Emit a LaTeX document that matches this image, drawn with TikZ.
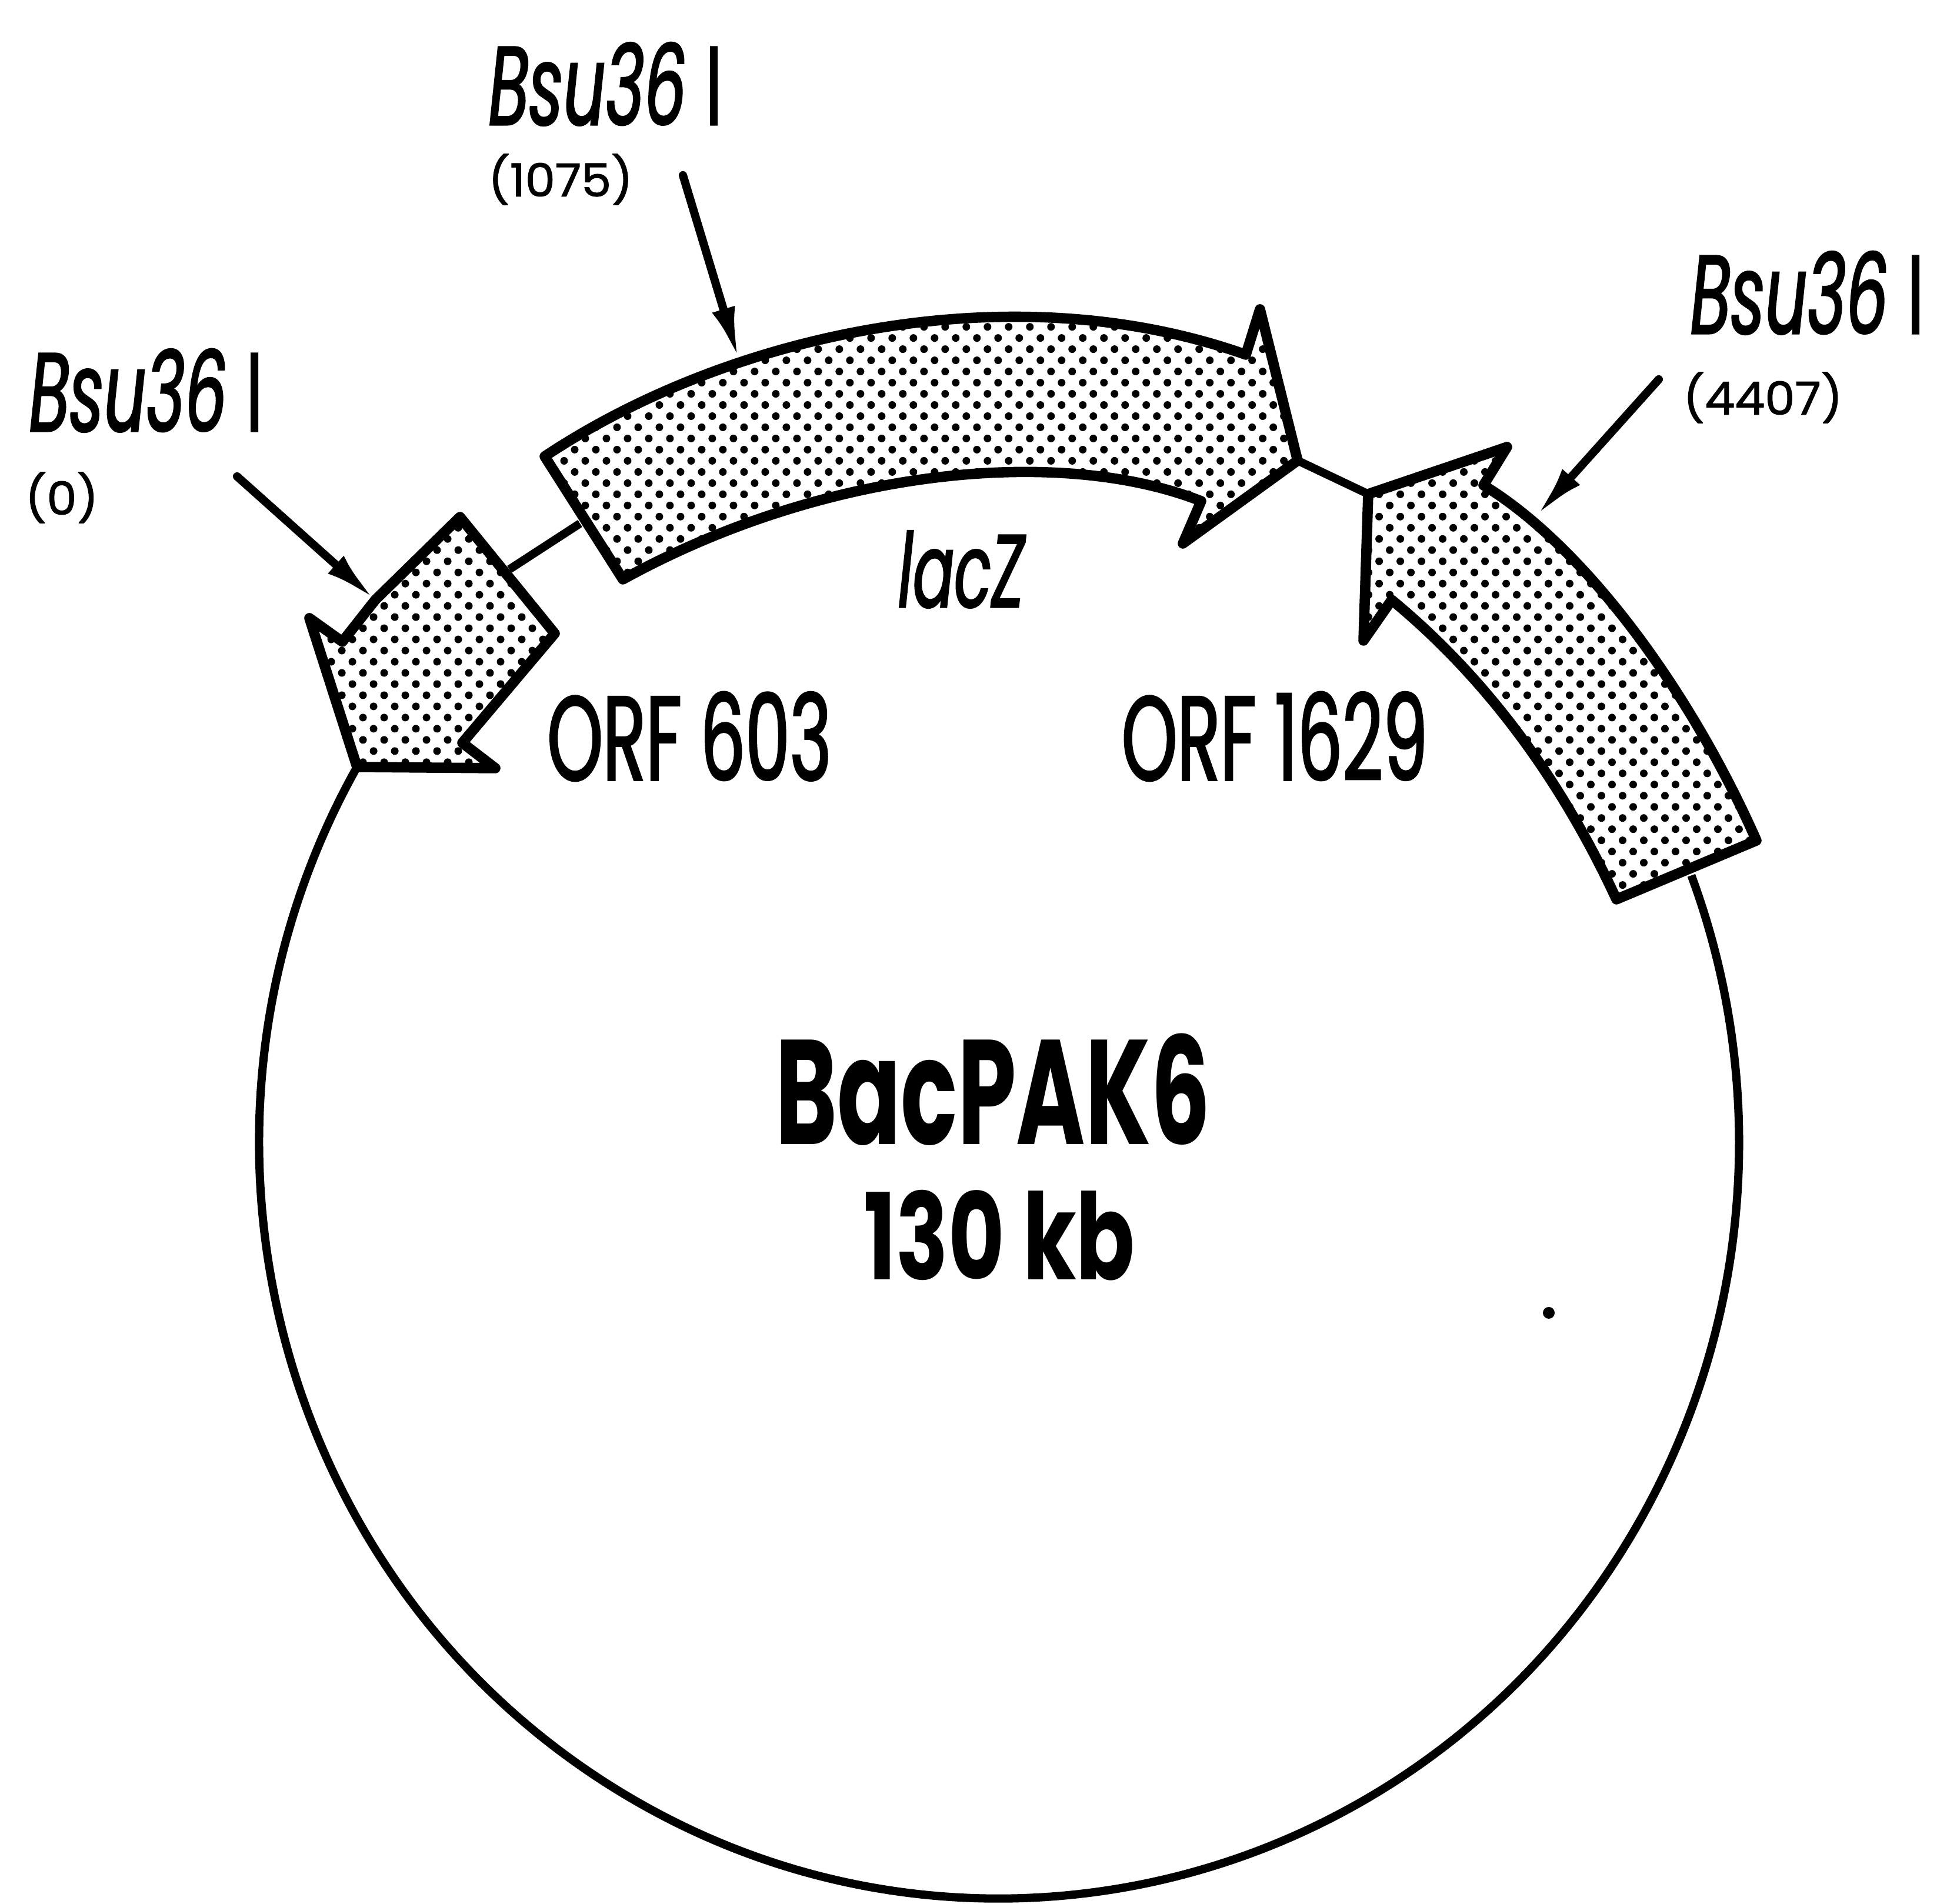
\documentclass[tikz,border=0pt]{standalone}
\usepackage{fontspec}
\newfontfamily\maplabel[FakeStretch=0.59,FakeBold=1.5]{Poppins}
\newfontfamily\mapname[FakeStretch=0.63]{Poppins}
\newfontfamily\mapsize[FakeStretch=0.72]{Poppins}
\newfontfamily\mappos[FakeStretch=1.05,FakeBold=1.5]{Poppins}
\usetikzlibrary{arrows.meta,patterns}
\pgfdeclarepatternformonly{genedots}{\pgfqpoint{-3pt}{-3pt}}{\pgfqpoint{13pt}{14pt}}{\pgfqpoint{10.24pt}{10.8pt}}{
  \pgfpathcircle{\pgfqpoint{1.5pt}{1.5pt}}{1.85pt}
  \pgfpathcircle{\pgfqpoint{6.62pt}{6.9pt}}{1.85pt}
  \pgfusepath{fill}
}
\tikzset{
  >=Latex,
  backbone/.style={line width=4pt},
  genebox/.style={line width=5pt, line join=round, preaction={fill=white}, pattern=genedots},
  site/.style={line width=4pt, line cap=round, -{Latex[length=9mm,width=4mm]}},
  sitename/.style={font=\maplabel\fontsize{54}{60}\selectfont\itshape, inner sep=0pt},
  sitepos/.style={font=\mappos\fontsize{22}{24}\selectfont, inner sep=0pt},
  genename/.style={font=\maplabel\fontsize{58}{64}\selectfont, inner sep=0pt}
}
\begin{document}
\begin{tikzpicture}
\useasboundingbox (0,0) rectangle (32.93,32.37);
% 1 : Junctions
\coordinate (tipa) at (6.07,19.33);
\coordinate (corea) at (8.66,22.69);
\coordinate (lacb) at (9.86,23.47);
\coordinate (lactip) at (22.06,24.54);
\coordinate (orfc) at (23.26,23.97);
\coordinate (orfd) at (28.73,17.46);

% 2 : Backbone
\draw[backbone] (tipa) arc[start angle=150.2, end angle=380.7, x radius=12.58, y radius=12.85];
\draw[backbone] (corea) -- (lacb);
\draw[backbone] (lactip) -- (orfc);

% 3 : ORF 603
\draw[genebox] (7.82,23.58) -- (6.38,22.17) -- (5.82,21.46) -- (5.26,21.86) -- (tipa)
  -- (8.42,19.31) -- (7.86,19.74) -- (9.43,21.60) -- cycle;

% 4 : lacZ
\draw[genebox] (9.26,24.61) .. controls (12.4,26.7) and (17.2,27.75) .. (21.18,26.34)
  -- (21.42,27.11) -- (lactip) -- (20.11,23.13) -- (20.42,23.85)
  .. controls (18.0,24.8) and (14.0,24.4) .. (10.59,22.52) -- cycle;

% 5 : ORF 1629
\draw[genebox] (orfc) -- (25.62,24.77) -- (25.22,24.12)
  .. controls (26.9,23.1) and (28.7,20.7) .. (29.86,18.08)
  -- (27.48,17.08)
  .. controls (26.5,19.2) and (25.2,20.9) .. (23.66,22.17)
  -- (23.18,21.48) -- cycle;

% 6 : Sites
\coordinate (sitea) at (4.03,24.27);
\coordinate (hita) at (6.38,22.17);
\coordinate (siteb) at (11.61,29.39);
\coordinate (hitb) at (12.56,26.25);
\coordinate (sitec) at (28.20,25.92);
\coordinate (hitc) at (26.11,23.59);
\draw[site] (sitea) -- (hita);
\draw[site] (siteb) -- (hitb);
\draw[site] (sitec) -- (hitc);

% 7 : Labels
\node[sitename] (bsua) at (2.48,25.73) {Bsu36 {\upshape I}};
\node[sitepos] (posa) at (1.05,23.91) {(0)};
\node[sitename] (bsub) at (10.29,30.94) {Bsu36 {\upshape I}};
\node[sitepos] (posb) at (9.53,29.32) {(1075)};
\node[sitename] (bsuc) at (30.72,27.39) {Bsu36 {\upshape I}};
\node[sitepos] (posc) at (29.97,25.61) {(4407)};
\node[genename, font=\maplabel\fontsize{50}{56}\selectfont\itshape] (lacz) at (16.34,22.69) {lacZ};
\node[genename] (orfsix) at (11.72,19.85) {ORF 603};
\node[genename] (orfsixteen) at (21.67,19.85) {ORF 1629};
\node[genename, font=\mapname\fontsize{72}{80}\selectfont\bfseries] (name) at (16.88,13.85) {BacPAK6};
\node[genename, font=\mapsize\fontsize{58}{64}\selectfont\bfseries] (size) at (16.99,11.37) {130 kb};
\fill (26.33,10.05) circle (0.1);

\end{tikzpicture}
\end{document}
